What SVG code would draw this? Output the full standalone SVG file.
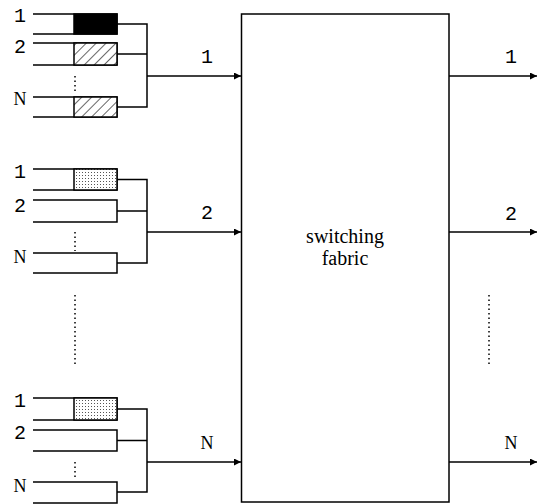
<svg xmlns="http://www.w3.org/2000/svg" width="537" height="504" viewBox="0 0 537 504">
<style>
.ln{fill:none;stroke:#000;stroke-width:1.5}
.dt{fill:none;stroke:#000;stroke-width:1.5;stroke-dasharray:1.5 3}
.lbl{font-family:"Liberation Mono",monospace;font-size:20px;fill:#000;text-anchor:middle}
.lbs{font-family:"Liberation Serif",serif;font-size:18px;fill:#000;text-anchor:middle}
.txt{font-family:"Liberation Serif",serif;font-size:20px;fill:#000;text-anchor:middle}
.blk{fill:#000;stroke:#000;stroke-width:1.5}
.hat{fill:url(#hatch);stroke:#000;stroke-width:1.5}
.dot{fill:url(#dots);stroke:#000;stroke-width:1.5}
</style>
<defs>
<pattern id="hatch" width="7" height="7" patternUnits="userSpaceOnUse" patternTransform="rotate(45)">
<rect width="7" height="7" fill="#fff"/>
<line x1="0" y1="0" x2="0" y2="7" stroke="#000" stroke-width="1.2"/>
</pattern>
<pattern id="dots" width="3" height="3" patternUnits="userSpaceOnUse">
<rect width="3" height="3" fill="#fff"/>
<rect x="1" y="1" width="1" height="1" fill="#555"/>
</pattern>
<marker id="arr" viewBox="0 0 10 10" refX="10" refY="5" markerWidth="9" markerHeight="7" markerUnits="userSpaceOnUse" orient="auto">
<path d="M0,0 L10,5 L0,10 z" fill="#000"/>
</marker>
</defs>

<g id="fabric">
<rect x="241.5" y="14" width="207.5" height="488" class="ln"/>
<text x="345" y="243" class="txt">switching</text>
<text x="345" y="265" class="txt">fabric</text>
</g>

<g id="input1">
<path class="ln" d="M33,14 H117 V34 H33 M33,43 H117 V65 H33 M33,97 H117 V117 H33"/>
<rect x="74" y="14" width="43" height="20" class="blk"/>
<rect x="74" y="43" width="43" height="22" class="hat"/>
<rect x="74" y="97" width="43" height="20" class="hat"/>
<line x1="75" y1="76" x2="75" y2="93" class="dt"/>
<text x="20" y="22" class="lbl">1</text>
<text x="20" y="53" class="lbl">2</text>
<text x="20" y="105" class="lbs">N</text>
</g>

<g id="input2">
<path class="ln" d="M33,169 H117 V190 H33 M33,200 H117 V222 H33 M33,253 H117 V273 H33"/>
<rect x="74" y="169" width="43" height="21" class="dot"/>
<line x1="75" y1="232" x2="75" y2="251" class="dt"/>
<text x="20" y="178" class="lbl">1</text>
<text x="20" y="212" class="lbl">2</text>
<text x="20" y="263" class="lbs">N</text>
</g>

<g id="inputN">
<path class="ln" d="M33,398 H117 V420 H33 M33,430 H117 V451 H33 M33,482 H117 V503 H33"/>
<rect x="74" y="398" width="43" height="22" class="dot"/>
<line x1="75" y1="462" x2="75" y2="479" class="dt"/>
<text x="20" y="407" class="lbl">1</text>
<text x="20" y="439" class="lbl">2</text>
<text x="20" y="492" class="lbs">N</text>
</g>

<g id="ellipsis">
<line x1="75" y1="295" x2="75" y2="365" class="dt"/>
<line x1="489" y1="295" x2="489" y2="366" class="dt"/>
</g>

<g id="connectors">
<path class="ln" d="M117,24 H147 V107 H117 M117,54 H147"/>
<path class="ln" d="M117,179.5 H147 V263 H117 M117,211 H147"/>
<path class="ln" d="M117,409 H147 V492 H117 M117,440.5 H147"/>
<line x1="147" y1="76" x2="241" y2="76" class="ln" marker-end="url(#arr)"/>
<line x1="147" y1="232" x2="241" y2="232" class="ln" marker-end="url(#arr)"/>
<line x1="147" y1="462" x2="241" y2="462" class="ln" marker-end="url(#arr)"/>
<line x1="449" y1="76" x2="537" y2="76" class="ln" marker-end="url(#arr)"/>
<line x1="449" y1="232" x2="537" y2="232" class="ln" marker-end="url(#arr)"/>
<line x1="449" y1="462" x2="537" y2="462" class="ln" marker-end="url(#arr)"/>
<text x="207" y="63" class="lbl">1</text>
<text x="207" y="219" class="lbl">2</text>
<text x="207" y="449" class="lbs">N</text>
<text x="511" y="63" class="lbl">1</text>
<text x="511" y="220" class="lbl">2</text>
<text x="511" y="449" class="lbs">N</text>
</g>
</svg>
